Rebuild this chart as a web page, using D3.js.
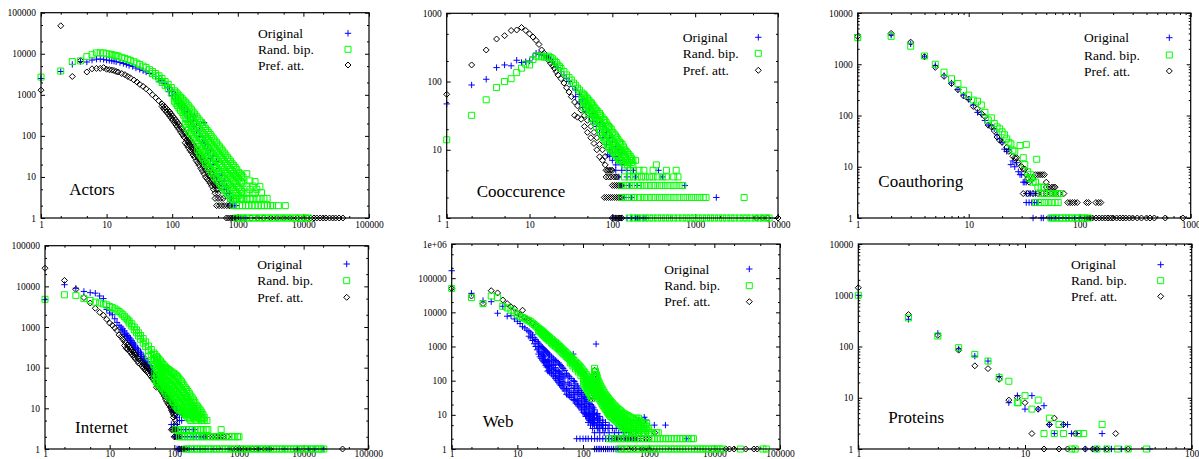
<!DOCTYPE html>
<html>
<head>
<meta charset="utf-8">
<script src="https://cdn.jsdelivr.net/npm/d3@7"></script>
<style>
body { margin: 0; background: #fff; }
svg text { font-family: "Liberation Serif", "Times New Roman", serif; fill: #000; }
</style>
</head>
<body>
<div id="chart"></div>
<script>
// degree distributions.
// "cols": [degree, count, count, ...]   "rows": [count, degree, degree, ...]

var seriesNames = ["Original", "Rand. bip.", "Pref. att."];

// ---- Actors
var actorsOrigCols = [[1,2500],[2,3700],[3,5500],[4,6500],[5,6300],[6,7000],[7,7400],[8,7400],[9,7300],[10,7000],[11,6900],[12,6700],[13,6600],[14,6400],[16,6100],[18,5800],[20,5500],[22,5200],[25,4900],[28,4500],[32,4200],[36,3900],[40,3600],[45,3300],[50,3100],[56,2800],[62,2500],[65,2150],[70,2200],[76,1900],[85,1520],[90,1500,1200],[100,1200,950],[112,1000,800],[125,800,620],[132,590],[140,600,480],[155,480,380],[170,380,290],[190,300,220],[210,230,170],[217,305],[235,180,130],[260,140,95],[290,100,70],[305,210],[316,66],[320,80,50],[350,60,38],[385,45,28],[420,32,20],[475,24,12,10],[520,16,7.8],[570,11,6],[620,8,5],[675,6,5.3,4],[740,4]];
var actorsOrigRows = [[3,700,760,800],[2,760,820,880,940],[1,850,950,1100,1300]];
var actorsRandCols = [[1,2700],[2,3800],[3,6500],[4,6700],[5,8500],[6,9500],[7,10500],[8,10500],[9,10500],[10,10000],[11,9800],[12,9500],[13,9200],[14,9000],[15,8700],[17,8200],[19,7700],[21,7300],[23,6900],[26,6400],[29,5900],[32,5500],[36,5000],[40,4600],[45,4100],[50,3700,3300],[56,3300,2900],[63,2900,2400],[70,2500,2000],[78,2100,1700],[87,1800,1400],[97,1500,1100],[108,1250,900,700],[120,1050,750,550],[134,870,600,420],[150,720,480,320],[167,600,390,250,160],[186,480,300,200,120],[208,380,240,150,95],[232,300,190,120,75],[259,240,150,95,55,38],[289,190,120,75,45,30],[322,150,95,60,36,22],[360,120,75,48,28,17],[400,95,60,38,22,13],[447,75,48,30,18,10],[500,60,38,24,14,8],[557,48,30,19,11,6],[622,38,24,15,9,5],[694,30,19,12,7,4],[774,24,15,10,6,3],[864,19,12,8,5,3],[964,15,10,6,4,3],[1075,12,8,5,3],[1200,10,7,4,3],[1370,12,6,4,3],[1530,8,5,3],[1700,6,4,3],[1830,7.7,4],[1950,5,3],[2170,5.8,3],[2300,4.1],[2500,3],[2800,3],
  [114,1150,820,620],[127,950,680,480],[142,800,540,370],[158,660,430,280,190],[176,540,350,220,140],[197,430,270,175,110],[220,340,215,135,85],[245,270,170,108,65,45],[274,215,135,85,50,34],[305,170,108,68,40,26],[340,135,85,54,32,20],[380,108,68,43,25,15],[423,85,54,34,20,12],[473,68,43,27,16,9],[528,54,34,21,12,7],[590,43,27,17,10,5.5],[657,34,21,13,8,4.5],[734,27,17,11,6.5,3.5],[818,21,14,9,5.5,3],[912,17,11,7,4.5,3],[1020,13,9,5.5,3.5],[1140,11,7.5,4.5,3]];
var actorsRandRows = [[2,850,950,1060,1180,1320,1470,1640,1830,2040,2280,2540,2830,3150,3400,4150,5300],[1,960,1070,1200,1340,1500,1670,1870,2090,2330,2600,2900,3240,3620,4040,4510,5040,5620,6280,7010,7820,8730,9750,10900,12000]];
var actorsPrefCols = [[1,1300],[2,48000],[3,2800],[4,6800],[5,3600],[6,4300],[7,4400],[8,4400],[9,4600],[10,4200],[11,4100],[12,4000],[13,3900],[14,3700],[15,3600],[17,3300],[19,3100],[21,2800],[23,2600],[26,2300],[29,2050],[32,1800],[36,1600],[40,1400],[45,1200],[50,1000],[56,850],[62,720],[70,600,520],[78,500,420],[87,420,340],[97,340,270],[108,270,210],[120,215,165],[134,170,125],[150,130,95],[167,100,79,60],[186,80,60,45],[208,62,46,34],[232,48,35,25],[259,37,27,19],[289,29,20,14],[322,22,15,10],[360,16,11,8],[400,12,8,6],[450,9,6,4],[500,6,5,4],
  [74,550,460],[82,460,380],[92,380,300],[102,300,240],[114,240,185],[127,190,145],[142,150,110],[158,115,88,68],[176,90,70,52],[197,70,53,40],[220,55,40,30],[245,42,31,22],[274,33,24,16],[305,25,18,12],[340,19,13,9],[380,14,10,7],[425,10,7,5],[475,7,5]];
var actorsPrefRows = [[3,450,500,550,600],[2,475,520,570,620,680,740,760],[1,670,720,780,840,900,960,1100,1300,1600,2000,2500,3200,4000,5000,6300,8000,10000,11500,13000,14500,16000,18000,20000,22000,25000,28000,31000,35000,40000]];

// ---- Cooccurence
var coocOrigCols = [[1,47],[2,89],[3,108],[4,160],[5,175],[6,170],[7,205],[8,190],[9,195],[10,200],[11,230],[12,260],[13,250],[14,245],[15,240],[16,230],[17,220],[18,210],[19,195],[20,180],[22,160],[24,140],[26,125],[28,110],[30,100],[33,85],[36,75,60],[40,65,50],[44,55,42],[48,48,36],[53,40,30],[58,34,26],[64,30,22],[70,25,18],[77,22,15],[85,18,12],[88,8.4],[93,15,10,8],[100,13,9,7],[110,11,8,6],[120,10,7],[130,9,6]];
var coocOrigRows = [[5,110,130,150,180,360],[4,120,150,190,400],[3,130,160,200,750],[2,140,170,1800],[1,100,110,120,130,150,170,190,200,215,235,255]];
var coocRandCols = [[1,14],[2,32],[3,54],[4,82],[5,100],[6,110],[7,135],[8,157],[9,180],[10,175],[11,210],[12,237],[13,230],[14,235],[15,228],[16,225],[17,235],[18,225],[19,215],[20,200],[21,190],[22,175],[23,165],[24,155],[26,140],[28,125],[30,115],[32,105],[34,95],[36,88],[38,80],[40,75],[43,68,55],[46,62,50],[50,56,44],[54,50,38],[58,45,34],[62,40,30],[67,36,27],[72,32,24,18],[78,28,21,15],[84,25,18,13],[90,22,16,11],[97,20,14,10],[105,17,12,9],[113,15,11,8],[122,13,10,7],[131,12,9,7],[141,10,8,6],[152,9,7,6],[164,8,7],[177,7,6],[190,7],
  [45,65,52,42],[48,59,47,38],[52,53,41,33],[56,48,36,29],[60,42,32,26],[64,38,28,22],[70,34,26,20],[75,30,22,16],[81,27,19,14],[87,23,17,12],[93,21,15,10.5],[101,18,13,9.5],[109,16,11.5,8.5],[117,14,10.5,7.5],[126,12.5,9.5,7],[136,11,8.5,6.5],[146,9.5,7.5],[158,8.5,6.5],[170,7.5,6.5]];
var coocRandRows = [[6,340],[5,160,180,210,240,310,450,590],[4,140,160,180,200,225,250,280,310,350,400,450,550,620],[3,130,145,160,180,200,220,245,270,300,330,370,410,460,510,570,640,710],[2,130,145,160,180,200,220,245,270,300,330,370,410,460,510,570,640,720,800,900,1000,1120,1250,1350,3900],[1,160,180,200,225,250,280,310,350,390,440,490,550,620,700,780,870,970,1090,1220,1370,1530,1710,1920,2150,2400,2700,3000,3400,3800,4200,4700,5300,5900,6600,7300,7800]];
var coocPrefCols = [[1,65],[2,175],[3,290],[4,420],[5,470],[6,560],[7,570],[8,620],[9,560],[10,500],[11,450],[12,400],[13,350],[14,290],[15,260],[16,230],[17,205],[18,185],[19,170],[20,155],[21,140],[22,125],[24,110],[26,95],[28,81],[30,70],[32,60],[35,50,32],[38,44,30],[42,38,28],[46,32,22],[50,27,18],[55,22,15],[60,18,12.4],[65,15,10],[70,12,7.9],[76,10,7],[82,8,6]];
var coocPrefRows = [[5,84,88,92,96,100],[4,84,90,96,104,110,115],[3,100,106,112,118,124,130],[2,80,85,90,95,100,106,112,118,124,130],[1,100,106,112,118,124,130,5500,6500,7500,10000]];

// ---- Coauthoring
var coauOrigCols = [[1,3800],[2,3700],[3,2500],[4,1400],[5,950],[6,600],[7,430],[8,320],[9,250],[10,205],[11,160],[12,115],[13,105],[14,80],[15,65],[16,65],[17,55],[18,42],[19,35],[20,30],[21,22],[22,20],[23,22],[24,11],[25,13],[26,10],[27,12],[28,8],[29,7],[30,7],[31,5],[32,5],[33,5]];
var coauOrigRows = [[3,33,35,36,38,40],[2,33,35,37,39,41,42],[1,38,45,47,53,56,60,65,70,75,80,90,100,110]];
var coauRandCols = [[1,3300],[2,3500],[3,2250],[4,1450],[5,1000],[6,700],[7,520],[8,420],[9,310],[10,250],[11,200],[12,190],[13,160],[14,115],[15,82],[16,90],[17,70],[18,60],[19,55],[20,48],[21,42],[22,35],[23,30],[24,28],[25,21],[26,20],[29,26],[31,15],[32,11],[33,27],[34,8],[35,6],[36,7],[37,6],[38,5],[40,5],[41,14],[42,4],[45,4],[48,4]];
var coauRandRows = [[3,45,48,51,54,57,60,63,66],[2,40,44,48,52,56,60,64],[1,55,58,62,66,70,75,80,86,92,98,105,112,120]];
var coauPrefCols = [[1,3500],[2,4000],[3,2700],[4,1400],[5,870],[6,580],[7,420],[8,320],[9,240],[10,210],[11,150],[12,135],[13,110],[14,95],[15,65],[16,60],[17,50],[18,38],[19,33],[20,30],[22,24],[23,20],[25,16],[26,15],[27,15],[28,12],[30,10],[31,9],[32,9],[33,7],[34,6],[35,5],[38,6],[40,7],[42,7],[44,7],[46,7],[48,7],[50,5]];
var coauPrefRows = [[4,50,53,56,58,60],[3,31,34,38,42,46,50,55,60,66,72],[2,78,82,86,90,95,115,120,140,148,155],[1,115,120,125,130,140,150,160,170,180,190,200,215,230,245,260,280,300,330,360,400,430,470,590,850]];

// ---- Internet
var inetOrigCols = [[1,4700],[2,11000],[3,9000],[4,7500],[5,7000],[6,6800],[7,5800],[8,5000],[9,3000,2700],[10,2600,2200],[11,2000],[12,1600],[13,1300],[14,1100],[15,1000,850],[16,900,750],[18,700,580],[20,560,460],[22,460,380],[24,380,310],[27,300,240],[30,240,190],[33,190,150],[36,160,120],[40,125,95],[44,100,75],[48,80,60],[53,64,48],[58,52,38],[64,42,30],[70,34,24],[77,27,19],[85,21,15],[93,17,12,9],[100,14,10,8],[110,11,8,6],[120,9,7,5],[130,7,5],
  [17,800,650],[19,620,510],[21,510,420],[23,420,345],[25,340,280],[28,270,215],[31,215,170],[35,170,135],[38,140,110],[42,112,85],[46,90,68],[50,72,54],[55,58,43],[61,47,34],[67,38,27],[73,30,21],[81,24,17],[89,19,13],[97,15,11,8.5]];
var inetOrigRows = [[4,90,100,110],[3,95,110,130,150,170,200],[2,100,110,120,130,145,160,180,200,220,250,280,300],[1,110,115,120,130,140,150,170,200,250,300,400,500,700,1000,2000,3000,5000,8000,12000,15000,20000]];
var inetRandCols = [[1,4800],[2,6200],[3,6000],[4,5000],[5,4500],[6,4100],[7,3900],[8,3700],[9,3500],[10,3200],[11,3000],[12,2800],[13,2600],[14,2400],[15,2200],[16,2000],[17,1800],[18,1650],[19,1500],[20,1400,1250],[22,1200,1050],[24,1000,850],[26,850,720],[28,720,600],[30,620,500],[33,520,400],[36,430,330],[40,340,260,190],[44,280,210,150],[48,230,170,120],[53,190,140,95,65,45],[58,160,115,80,55,38],[64,130,95,65,45,32],[70,110,80,55,38,27],[77,95,68,46,32,22],[85,85,58,40,27,18],[93,75,50,34,23,15],[102,70,45,28,18,12],[112,60,38,24,15,10],[123,50,32,20,13,9],[135,40,26,17,11,8],[148,32,21,14,9,7],[163,26,17,11,8,6],[180,20,14,9,7,5],[198,16,11,8,6],[218,12,9,6.3,5],[240,10,7,6],[265,8,6,5],[290,6,5],[320,5],
  [50,210,155,110,75,52],[55,175,128,88,60,42],[61,145,105,72,50,35],[67,120,88,60,42,30],[73,102,74,50,35,25],[81,90,63,43,30,20],[89,80,54,37,25,17],[97,72,48,31,21,14],[107,65,42,26,17,11],[117,55,35,22,14,9.5],[129,45,29,18,12,8.5],[141,36,24,15,10,7.5],[155,29,19,13,8.5,6.5],[171,23,15,10,7.5,5.5],[189,18,12,8.5,6.5],[208,14,10,7.5,5.5],[229,11,8,6.5],[252,9,7,5.5],[277,7,5.5]];
var inetRandRows = [[3,105,115,125,140,155,170,190,210,230,255,280,310,330,530],[2,120,130,145,160,175,195,215,240,265,290,320,355,390,430,475,520,580,640,700,780,860,950,1000],[1,150,165,185,205,225,250,275,300,335,370,410,450,500,550,610,680,750,830,920,1020,1130,1250,1380,1520,1700,1880,2080,2300,2550,2800,3100,3450,3800,4200,4650,5150,5700,6300,7000,7700,8500,9400,10400,11500,12700,14000,15500,17000,18800,20500]];
var inetPrefCols = [[1,28000],[2,14000],[3,8400],[4,5300],[5,3900],[6,2900],[7,2300],[8,1950],[9,1550],[10,1250],[11,1100],[12,950],[13,820],[14,640],[15,580],[16,500],[18,400,300],[20,330,260],[22,270,215],[24,230,180],[27,180,145],[30,150,120],[33,125,100],[36,110,85],[40,95,72],[44,80,60],[48,65,50],[53,52,40,33],[58,42,32],[64,34,26],[70,27,20],[76,21,15],[83,16,12],[90,12,9],[97,9,7,6],[104,7,5,4],
  [17,440,350],[19,360,290],[21,300,240],[23,250,200],[25,210,165],[28,165,130],[32,135,110],[35,118,92],[38,100,80],[42,88,66],[46,72,55],[50,58,45],[55,48,37],[61,38,29],[67,30,23],[73,24,17],[80,18,13],[87,14,10.5],[94,10,8]];
var inetPrefRows = [[3,90,95,100,105,110],[2,100,106,112,120,300,340,380,420,460,520,580,670],[1,120,130,140,150,800,900,1000,1100,1200,1400,1600,1800,2000,2500,3000,40000]];

// ---- Web
var webOrigCols = [[1,165000],[2,36000],[3,22000],[4,20500],[5,9400],[6,15000],[7,7700],[8,8000],[9,6400],[10,5500],[11,4700],[12,3800],[13,3500],[14,3000],[15,2800,2000],[16,2500,1800],[17,2200,1500],[18,1800,1200],[19,1600,1000],[20,1400,800],[22,1100,700,500],[24,950,600,400],[26,800,500,330],[28,700,350,250],[30,600,400,280,200],[33,500,330,230,160],[36,420,280,190,130],[40,360,200,140,100],[44,300,180,120,80],[48,250,150,95,65],[53,200,120,75,50],[56,160,57,40],[62,130,80,50,35],[71,600,100,60,40,28],[78,80,50,29,22],[86,60,40,25,18],[95,45,30,20,14],[105,35,24,16,11],[114,28,18,12,9],[125,22,15,10,7],[138,18,12,8,6],[150,14,10,7,5],[158,1180],[165,11,8,6,4],[180,9,6,5,4],[200,7,5,4],[220,6,5,4],[857,8.5],[900,7],[1220,5],
  [21,1250,900,600],[23,1000,650,450],[25,870,550,360],[27,750,420,280],[29,650,380,260,190],[31,560,360,250,175],[35,460,300,210,145],[38,390,240,165,115],[42,330,190,130,90],[46,275,165,110,72],[50,225,135,85,58],[59,145,90,58,38],[66,115,72,45,32],[74,95,60,38,26],[82,70,45,27,20],[90,52,35,22,16],[100,40,27,18,12],[110,32,21,14,10],[120,25,17,11,8],[132,20,13,9,6.5],[144,16,11,7.5,5.5]];
var webOrigRows = [[10,120,140,160],[9,110,130],[8,130,150,170],[7,125,150,180,700],[6,120,140,170,200],[5,130,160,190,220,250,1800],[4,140,170,200,240,280,320,400],[3,150,180,210,250,300,350,420,500],[2,80,90,100,110,120,135,150,165,180,200,220,245,270,300,330,370,410,450,500,560,620,3800],[1,150,160,170,180,190,205,220,235,250,270,290,310,330,350]];
var webRandCols = [[1,50000],[2,27000],[3,18000],[4,30000],[5,27000],[6,15000],[7,13500],[8,11500],[9,10000],[10,8500],[11,7500],[12,7000],[13,6500],[14,6000],[15,5700],[16,5300],[17,4800],[18,4400],[19,4000],[20,3700],[22,3200,2700],[24,2800,2300],[26,2400,2000],[28,2100,1750],[30,1900,1550],[33,1650,1300],[36,1400,1100],[40,1200,950],[44,1000,800],[48,850,680],[53,720,570],[58,600,480],[64,500,400,330],[70,420,330,270],[77,350,270,220],[85,290,220,180],[93,240,180,140],[102,190,145,110,80],[112,150,110,80,60],[122,110,80,60,45],[132,80,60,45,35],[140,60,45,35],[150,230,180,130,90,60],[160,150,100,70,45],[170,100,70,50,35],[182,75,52,38,27],[195,58,40,30,21],[210,45,32,24,17],[226,36,26,19,14],[244,30,21,16,11],[263,25,18,13,9],[285,21,15,11,8],[310,18,13,9,7],[340,15,11,8,6],[375,13,9,7,5],[410,11,8,6,5,4],[450,10,7,5,4,3],[500,9,6,5,4,3],[560,8,6,4,3],[620,7,5,4,3],[660,8],[700,8,6,4,3],[780,6,5,3],[880,5,4,3],[930,5.8],[1000,4,3],[1100,3],[1300,3],[1400,3],
  [21,3400,2900],[23,3000,2500],[25,2600,2150],[27,2250,1850],[29,2000,1650],[31,1800,1450],[34,1550,1200],[38,1300,1020],[42,1100,870],[46,920,740],[50,790,620],[55,660,520],[61,550,440],[67,460,360],[73,390,300],[81,320,245],[89,265,200],[97,215,160],
  [107,170,128,95,70],[117,130,95,70,52],[127,95,70,52,40],[136,70,52,40,30],[145,120,80,50],[155,190,140,100,70,50],[165,125,85,60,40],[176,88,60,43,30],[188,66,46,34,24],[202,52,36,27,19],[218,40,29,21,15],[235,33,24,17,12],[253,27,19,14,10],[274,23,16,12,8.5],[297,19,14,10,7.5],[325,16,12,8.5,6.5],[357,14,10,7.5,5.5],[392,12,8.5,6.5,4.5],[430,10.5,7.5,5.5,4.5],[475,9.5,6.5,5,4,3],[530,8.5,6,4.5,3.5],[590,7.5,5.5,4,3],[660,7,5,3.5],[740,6.5,4.5,3.5],[830,5.5,4.5,3],[940,4.5,3.5]];
var webRandRows = [[2,250,280,310,340,380,420,460,510,560,620,680,750,830,920,1010,1120,1230,1360,1500,1650,1820,2000,2200,2450,2700,3000,3300,3650,4000,4500,4800],[1,350,390,430,480,530,590,650,720,800,880,980,1080,1200,1330,1470,1630,1800,2000,2200,2450,2700,3000,3300,3650,4050,4500,5000,5500,6100,6700,7400,8200,9100,10000,11000,12200,13500,25000,55000,62000]];
var webPrefCols = [[1,50000],[2,30000],[3,18000],[4,43000],[5,37000],[6,23000],[7,18000],[8,14500],[9,13000],[10,9500],[11,8500],[12,11500],[13,7000],[14,6300],[15,5700],[17,4800],[19,4000],[21,3400],[24,2800],[27,2300],[30,1900],[34,1500],[38,1250],[43,1000],[48,800],[54,650],[60,520],[67,420],[75,330],[84,260],[94,200],[105,150],[115,110],[125,75],[135,50],[140,35],[145,30],[150,200,150,100],[155,80],[160,60],[170,45],[180,35],[190,28],[200,24],[215,20],[230,16],[250,13],[270,11],[290,9],[310,8],[330,7],[360,6],[400,5],[450,4],[520,3.5],[600,3],[1240,3]];
var webPrefRows = [[2,300,330,360,400,450,500,560,620,700,800,900,1000],[1,400,500,600,800,1000,15000,17000,20000,30000,40000,45000]];

// ---- Proteins
var protOrigCols = [[1,1000],[2,340],[3,180],[4,90],[5,65],[6,52],[7,26],[8,8],[9,11],[10,6],[11,11],[12,6],[13,7],[14,3],[15,2],[17,3],[18,3],[19,2],[20.5,2],[29,2],[23,1],[25.5,1],[27,1],[30,1],[33,1],[38,1],[56,1]];
var protRandCols = [[1,1000],[2,360],[3,160],[4,95],[5,70],[6,52],[7,25],[8,21],[9,8],[9.1,8],[10,11],[11,6],[12,9],[13,2],[14,4],[15,2],[16,3],[17,2],[19,1],[20,1],[21,2],[22.5,2],[27,1],[29,3],[31,1],[36,1],[41.6,1],[53.5,1]];
var protPrefCols = [[1,1400],[2,420],[3,165],[4,85],[5,42],[6,37],[7,23],[8,9],[9,10],[10,8],[11,2],[12,6],[13,1],[14,3],[15,4],[16,1],[17,3],[18,1],[20,2],[23,1],[25.5,1],[27,1],[31,1],[35,2],[41.6,1]];

// layout of the six gnuplot frames (pixels)
var panels = [
  {label: "Actors", box: [41, 12.7, 369, 218], xMax: 1e5, yMax: 1e5, minor: [2, 5],
   leg: [258, 348, 33.3, 49.3, 65], lab: [69.3, 189], pad: 3,
   data: [[actorsOrigCols, actorsOrigRows], [actorsRandCols, actorsRandRows], [actorsPrefCols, actorsPrefRows]]},
  {label: "Cooccurence", box: [446.7, 13.3, 778, 218], xMax: 1e4, yMax: 1e3, minor: [2, 5],
   leg: [682.7, 758.3, 37.3, 53.3, 70.3], lab: [476.7, 191], pad: 3,
   data: [[coocOrigCols, coocOrigRows], [coocRandCols, coocRandRows], [coocPrefCols, coocPrefRows]]},
  {label: "Coauthoring", box: [857.7, 13, 1190.7, 218], xMax: 1e3, yMax: 1e4, minor: [2, 3, 4, 5, 6, 7, 8, 9],
   leg: [1084, 1169.3, 37.7, 55, 71], lab: [878.3, 180.7], pad: 3,
   data: [[coauOrigCols, coauOrigRows], [coauRandCols, coauRandRows], [coauPrefCols, coauPrefRows]]},
  {label: "Internet", box: [45, 245.7, 368.3, 449], xMax: 1e5, yMax: 1e5, minor: [2, 5],
   leg: [257.3, 346.7, 264, 280.7, 297.3], lab: [75, 426.7], pad: 1,
   data: [[inetOrigCols, inetOrigRows], [inetRandCols, inetRandRows], [inetPrefCols, inetPrefRows]]},
  {label: "Web", box: [451.7, 244, 780, 449], xMax: 1e5, yMax: 1e6, minor: [2, 5],
   leg: [664.3, 749.3, 269, 285.7, 301.7], lab: [482.7, 421.3], pad: 1,
   data: [[webOrigCols, webOrigRows], [webRandCols, webRandRows], [webPrefCols, webPrefRows]]},
  {label: "Proteins", box: [858.3, 244, 1191.7, 449], xMax: 100, yMax: 1e4, minor: [2, 3, 4, 5, 6, 7, 8, 9],
   leg: [1071, 1160.7, 264.7, 280.7, 296.3], lab: [888.3, 416.7], pad: 1,
   data: [[protOrigCols, []], [protRandCols, []], [protPrefCols, []]]}
];

var colors = ["#0000ff", "#00ff00", "#000000"];
var shapes = [
  "M-3.2,0H3.2M0,-3.2V3.2",
  "M-3,-3H3V3H-3Z",
  "M0,-3L3,0L0,3L-3,0Z"
];
var drawOrder = [0, 2, 1];

function expand(cols, rows) {
  var pts = [];
  cols.forEach(function(c) { c.slice(1).forEach(function(n) { pts.push([c[0], n]); }); });
  rows.forEach(function(r) { r.slice(1).forEach(function(k) { pts.push([k, r[0]]); }); });
  return pts;
}

function decades(max) {
  var out = [];
  for (var v = 1; v <= max * 1.0001; v *= 10) out.push(Math.round(v));
  return out;
}

var svg = d3.select("#chart").append("svg")
    .attr("width", 1199)
    .attr("height", 459);

var fmt = function(d) { return d >= 1e6 ? "1e+06" : String(d); };

panels.forEach(function(p) {
  var b = p.box;
  var x = d3.scaleLog().domain([1, p.xMax]).range([b[0], b[2]]);
  var y = d3.scaleLog().domain([1, p.yMax]).range([b[3], b[1]]);

  var xMaj = decades(p.xMax), yMaj = decades(p.yMax);
  var xMin = [], yMin = [];
  xMaj.slice(0, -1).forEach(function(d) { p.minor.forEach(function(m) { xMin.push(d * m); }); });
  yMaj.slice(0, -1).forEach(function(d) { p.minor.forEach(function(m) { yMin.push(d * m); }); });

  var g = svg.append("g");

  // bottom / top
  g.append("g").attr("transform", `translate(0,${b[3]})`)
    .call(d3.axisBottom(x).tickValues(xMaj).tickSize(-4).tickSizeOuter(0).tickPadding(p.pad).tickFormat(fmt));
  g.append("g").attr("transform", `translate(0,${b[3]})`)
    .call(d3.axisBottom(x).tickValues(xMin).tickSize(-2).tickSizeOuter(0).tickFormat(""));
  g.append("g").attr("transform", `translate(0,${b[1]})`)
    .call(d3.axisTop(x).tickValues(xMaj).tickSize(-4).tickSizeOuter(0).tickFormat(""));
  g.append("g").attr("transform", `translate(0,${b[1]})`)
    .call(d3.axisTop(x).tickValues(xMin).tickSize(-2).tickSizeOuter(0).tickFormat(""));
  // left / right
  g.append("g").attr("transform", `translate(${b[0]},0)`)
    .call(d3.axisLeft(y).tickValues(yMaj).tickSize(-4).tickSizeOuter(0).tickPadding(5).tickFormat(fmt));
  g.append("g").attr("transform", `translate(${b[0]},0)`)
    .call(d3.axisLeft(y).tickValues(yMin).tickSize(-2).tickSizeOuter(0).tickFormat(""));
  g.append("g").attr("transform", `translate(${b[2]},0)`)
    .call(d3.axisRight(y).tickValues(yMaj).tickSize(-4).tickSizeOuter(0).tickFormat(""));
  g.append("g").attr("transform", `translate(${b[2]},0)`)
    .call(d3.axisRight(y).tickValues(yMin).tickSize(-2).tickSizeOuter(0).tickFormat(""));

  g.selectAll(".tick text").style("font-size", "9.5px").style("font-family", '"Liberation Serif", serif');
  g.selectAll(".domain").remove();
  g.selectAll(".tick line").attr("stroke", "#000");

  // points
  drawOrder.forEach(function(si) {
    var pts = expand(p.data[si][0], p.data[si][1]);
    g.append("g").selectAll("path")
      .data(pts)
      .enter().append("path")
      .attr("d", shapes[si])
      .attr("transform", function(d) { return `translate(${x(d[0])},${y(d[1])})`; })
      .attr("fill", "none")
      .attr("stroke", colors[si])
      .attr("stroke-width", 1);
  });

  // frame
  g.append("rect")
    .attr("x", b[0]).attr("y", b[1])
    .attr("width", b[2] - b[0]).attr("height", b[3] - b[1])
    .attr("fill", "none").attr("stroke", "#000").attr("stroke-width", 1.2);

  // legend
  seriesNames.forEach(function(name, i) {
    var ly = p.leg[2 + i];
    g.append("text")
      .attr("x", p.leg[0]).attr("y", ly).attr("dy", "0.35em")
      .style("font-size", "13.5px")
      .text(name);
    g.append("path")
      .attr("d", shapes[i])
      .attr("transform", `translate(${p.leg[1]},${ly})`)
      .attr("fill", "none").attr("stroke", colors[i]).attr("stroke-width", 1);
  });

  g.append("text")
    .attr("x", p.lab[0]).attr("y", p.lab[1]).attr("dy", "0.35em")
    .style("font-size", "17px")
    .text(p.label);
});
</script>
</body>
</html>
